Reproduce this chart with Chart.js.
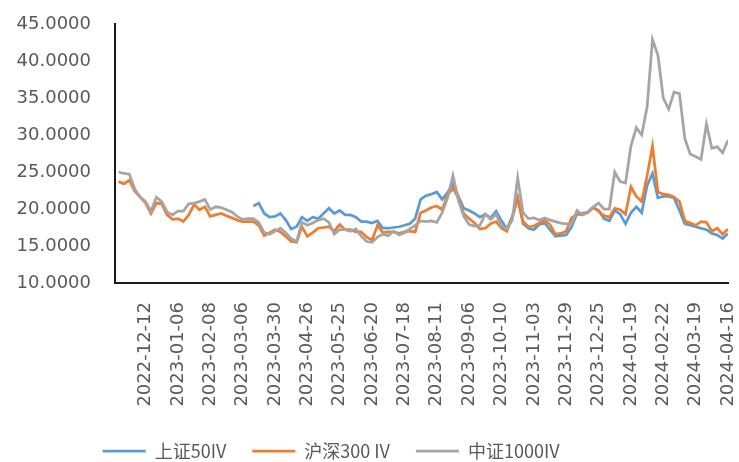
<html>
<head>
<title>IV</title>
<meta charset="utf-8">
<script src="https://cdn.jsdelivr.net/npm/chart.js@4.4.0/dist/chart.umd.min.js"></script>
<style>
  body { margin: 0; background: #fff; }
</style>
</head>
<body>
<canvas id="ivChart" width="739" height="462"></canvas>
<script>
// x tick labels, one every 18 trading days
var tickDates = ['2022-12-12', '2023-01-06', '2023-02-08', '2023-03-06', '2023-03-30', '2023-04-26',
  '2023-05-25', '2023-06-20', '2023-07-18', '2023-08-11', '2023-09-06', '2023-10-10', '2023-11-03',
  '2023-11-29', '2023-12-25', '2024-01-19', '2024-02-22', '2024-03-19', '2024-04-16'];
var firstTickDay = 17, tickEvery = 18, lastDay = 341;
// values read every 3rd trading day, starting at day 2
var firstDay = 2, dayStep = 3;

var sse50 = [null, null, null, null, null, null, null, null, null, null,
  null, null, null, null, null, null, null, null, null, null,
  null, null, null, null, null, 20.4, 20.8, 19.4, 18.9, 19.0,
  19.4, 18.5, 17.3, 17.6, 18.9, 18.4, 18.9, 18.7, 19.4, 20.1,
  19.4, 19.8, 19.2, 19.2, 18.9, 18.3, 18.3, 18.1, 18.4, 17.4,
  17.4, 17.5, 17.6, 17.8, 18.0, 18.7, 21.3, 21.8, 22.0, 22.3,
  21.3, 22.2, 23.5, 21.7, 20.1, 19.8, 19.4, 18.9, 19.3, 18.8,
  19.7, 18.4, 17.3, 19.0, 21.5, 18.0, 17.4, 17.2, 17.9, 18.1,
  17.2, 16.3, 16.4, 16.5, 17.6, 19.4, 19.4, 19.6, 20.2, 19.8,
  18.7, 18.4, 19.8, 19.3, 18.0, 19.5, 20.3, 19.5, 23.2, 24.8,
  21.5, 21.7, 21.7, 21.5, 19.8, 18.0, 17.8, 17.6, 17.4, 17.2,
  16.7, 16.5, 16.0, 16.7];

var hs300 = [23.7, 23.4, 23.9, 22.4, 21.6, 20.8, 19.4, 20.8, 20.7, 19.2,
  18.6, 18.7, 18.3, 19.2, 20.6, 19.9, 20.3, 19.0, 19.2, 19.4,
  19.1, 18.8, 18.5, 18.3, 18.3, 18.3, 17.8, 16.4, 16.8, 17.2,
  16.9, 16.3, 15.6, 15.5, 17.6, 16.3, 16.8, 17.4, 17.5, 17.6,
  17.0, 17.9, 17.2, 17.2, 16.9, 16.9, 16.2, 15.8, 17.8, 16.8,
  16.9, 16.9, 16.7, 16.9, 17.0, 16.9, 19.5, 19.8, 20.2, 20.4,
  19.9, 21.9, 22.8, 21.5, 19.4, 18.7, 18.1, 17.3, 17.4, 18.0,
  18.3, 17.4, 17.0, 18.8, 21.5, 18.3, 17.6, 17.7, 18.1, 18.5,
  17.9, 16.6, 16.7, 17.0, 18.8, 19.3, 19.2, 19.5, 20.2, 19.7,
  19.1, 18.9, 20.1, 19.9, 19.3, 23.0, 21.7, 21.0, 24.5, 28.5,
  22.3, 22.0, 21.9, 21.6, 21.0, 18.4, 18.1, 17.8, 18.3, 18.2,
  17.0, 17.4, 16.6, 17.3];

var csi1000 = [25.0, 24.8, 24.7, 22.7, 21.6, 21.0, 19.7, 21.6, 21.0, 19.6,
  19.2, 19.7, 19.7, 20.7, 20.8, 21.0, 21.3, 19.9, 20.3, 20.2,
  19.9, 19.6, 19.0, 18.6, 18.7, 18.7, 18.2, 16.8, 16.6, 17.0,
  17.4, 16.8, 16.0, 15.6, 18.2, 17.8, 18.1, 18.5, 18.7, 18.2,
  16.6, 17.2, 17.2, 17.0, 17.3, 16.3, 15.6, 15.5, 16.2, 16.6,
  16.4, 17.0, 16.5, 16.8, 17.3, 17.8, 18.4, 18.3, 18.4, 18.2,
  19.5, 21.5, 24.5, 21.2, 19.0, 17.9, 17.7, 17.8, 19.3, 18.6,
  19.3, 17.7, 17.3, 18.5, 24.2, 19.5, 18.7, 18.8, 18.5, 18.8,
  18.5, 18.3, 18.1, 18.0, 18.0, 19.8, 19.2, 19.6, 20.3, 20.8,
  20.0, 20.0, 25.0, 23.7, 23.5, 28.5, 31.0, 30.0, 33.8, 42.9,
  40.8, 35.0, 33.5, 35.8, 35.6, 29.5, 27.4, 27.1, 26.7, 31.5,
  28.2, 28.4, 27.6, 29.3];

function toPoints(values) {
  return values.map(function(v, k) { return {x: firstDay + k * dayStep, y: v}; });
}

var tickFont = {family: 'DejaVu Sans', size: 18};
var textColor = '#595959';
var legendLeft = 76.7;

// legend starts further right than Chart.js would put it
var legendShift = {
  id: 'legendShift',
  afterLayout: function(chart) { if (chart.legend) chart.legend.left = legendLeft; }
};

var ctx = document.getElementById('ivChart').getContext('2d');
var ivChart = new Chart(ctx, {
  type: 'line',
  data: {
    datasets: [
      {label: '上证50IV', data: toPoints(sse50), borderColor: '#5B9BD5', backgroundColor: '#5B9BD5', borderWidth: 2.75, order: 3},
      {label: '沪深300 IV', data: toPoints(hs300), borderColor: '#ED7D31', backgroundColor: '#ED7D31', borderWidth: 2.75, order: 2},
      {label: '中证1000IV', data: toPoints(csi1000), borderColor: '#A5A5A5', backgroundColor: '#A5A5A5', borderWidth: 2.75, order: 1}
    ]
  },
  plugins: [legendShift],
  options: {
    responsive: false,
    animation: false,
    devicePixelRatio: 1,
    layout: {padding: {left: 0, right: 11, top: 24, bottom: -8}},
    elements: {
      line: {tension: 0},
      point: {radius: 0, hoverRadius: 0}
    },
    plugins: {
      tooltip: {enabled: false},
      legend: {
        position: 'bottom',
        align: 'start',
        labels: {
          usePointStyle: true,
          pointStyle: 'line',
          pointStyleWidth: 43,
          padding: 26,
          color: textColor,
          font: {family: 'Noto Sans CJK SC', size: 18},
          sort: function(a, b) { return a.datasetIndex - b.datasetIndex; }
        }
      }
    },
    scales: {
      x: {
        type: 'linear',
        min: 0,
        max: lastDay,
        afterBuildTicks: function(scale) {
          scale.ticks = tickDates.map(function(d, m) { return {value: firstTickDay + m * tickEvery}; });
        },
        afterFit: function(scale) {
          var lg = scale.chart.legend;
          scale.height = scale.chart.height + 8 - (lg ? lg.height : 56) - 283;
          scale.paddingLeft = 0;
          scale.paddingRight = 0;
        },
        ticks: {
          autoSkip: false,
          minRotation: 90,
          maxRotation: 90,
          padding: 19,
          color: textColor,
          font: tickFont,
          callback: function(value, index) { return tickDates[index]; }
        },
        grid: {display: false, drawTicks: false},
        border: {display: true, color: '#1a1a1a', width: 2}
      },
      y: {
        min: 10,
        max: 45,
        afterFit: function(scale) {
          scale.width = 115;
          scale.paddingTop = 0;
          scale.paddingBottom = 0;
        },
        ticks: {
          stepSize: 5,
          padding: 24,
          color: textColor,
          font: tickFont,
          callback: function(value) { return value.toFixed(4); }
        },
        grid: {display: false, drawTicks: false},
        border: {display: true, color: '#1a1a1a', width: 2}
      }
    }
  }
});
</script>
</body>
</html>
